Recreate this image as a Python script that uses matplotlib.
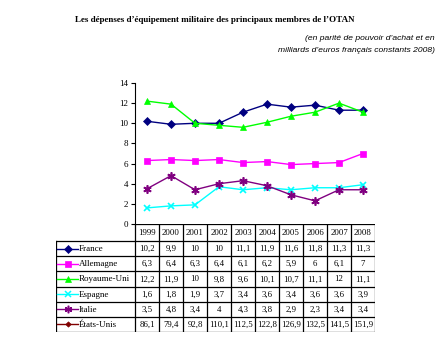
import matplotlib.pyplot as plt
from matplotlib.lines import Line2D

years = ['1999', '2000', '2001', '2002', '2003', '2004', '2005', '2006', '2007', '2008']
france = [10.2, 9.9, 10, 10, 11.1, 11.9, 11.6, 11.8, 11.3, 11.3]
allemagne = [6.3, 6.4, 6.3, 6.4, 6.1, 6.2, 5.9, 6, 6.1, 7]
royaume_uni = [12.2, 11.9, 10, 9.8, 9.6, 10.1, 10.7, 11.1, 12, 11.1]
espagne = [1.6, 1.8, 1.9, 3.7, 3.4, 3.6, 3.4, 3.6, 3.6, 3.9]
italie = [3.5, 4.8, 3.4, 4, 4.3, 3.8, 2.9, 2.3, 3.4, 3.4]
etats_unis = [86.1, 79.4, 92.8, 110.1, 112.5, 122.8, 126.9, 132.5, 141.5, 151.9]

series = [
    ('France', france, '#000080', 'D', 4, True),
    ('Allemagne', allemagne, '#FF00FF', 's', 4.5, True),
    ('Royaume-Uni', royaume_uni, '#00FF00', '^', 5, True),
    ('Espagne', espagne, '#00FFFF', 'x', 5, True),
    ('Italie', italie, '#800080', (6, 2, 0), 6, True),
    ('États-Unis', etats_unis, '#800000', 'D', 3, False),  # hors échelle
]

plt.rcParams['font.family'] = ['Liberation Serif', 'DejaVu Serif']

W, H = 437, 344
fig = plt.figure(figsize=(W / 100, H / 100), dpi=100)

def box(x0, y0, x1, y1):
    # pixel box (from top-left) -> figure fraction
    return [x0 / W, 1 - y1 / H, (x1 - x0) / W, (y1 - y0) / H]

fig.text(215 / W, 1 - 20 / H, "Les dépenses d\u2019équipement militaire des principaux membres de l\u2019OTAN",
         ha='center', va='center', fontsize=6.5, fontweight='bold')
fig.text(435 / W, 1 - 38 / H, "(en parité de pouvoir d\u2019achat et en",
         ha='right', va='center', fontsize=6.1, style='italic', family=['Liberation Sans'])
fig.text(435 / W, 1 - 51 / H, "milliards d\u2019euros français constants 2008)",
         ha='right', va='center', fontsize=6.1, style='italic', family=['Liberation Sans'])

x0, x1 = 135, 375
ytop, ybot = 83, 224
ax = fig.add_axes(box(x0, ytop, x1, ybot))
xs = range(len(years))
for name, vals, col, mk, ms, shown in series:
    if shown:
        ax.plot(xs, vals, color=col, marker=mk, markersize=ms, lw=1.0,
                markeredgewidth=1.2 if mk in ('x',) or isinstance(mk, tuple) else 0.5)
ax.set_xlim(-0.5, len(years) - 0.5)
ax.set_ylim(0, 14)
ax.set_yticks(range(0, 15, 2))
ax.set_xticks([])
for s in ['top', 'right', 'bottom']:
    ax.spines[s].set_visible(False)
ax.spines['left'].set_linewidth(0.8)
ax.tick_params(axis='y', length=3, width=0.8, labelsize=6.5, pad=2)
ax.patch.set_alpha(0)

# tableau de données
tx0, ty0, ty1 = 56, 224, 332
hdr = 241
tb = fig.add_axes(box(tx0, ty0, x1, ty1))
tb.set_xlim(tx0, x1)
tb.set_ylim(ty1, ty0)
tb.axis('off')
cw = (x1 - x0) / len(years)
rh = (ty1 - hdr) / len(series)
lw = 0.9
tb.plot([x0, x1], [ty0, ty0], color='k', lw=lw)
tb.plot([tx0, x1], [hdr, hdr], color='k', lw=lw)
for i in range(len(series)):
    y = hdr + (i + 1) * rh
    tb.plot([tx0, x1], [y, y], color='k', lw=lw)
tb.plot([tx0, tx0], [hdr, ty1], color='k', lw=lw)
for j in range(len(years) + 1):
    tb.plot([x0 + j * cw] * 2, [ty0, ty1], color='k', lw=lw)
for j, yr in enumerate(years):
    tb.text(x0 + (j + 0.5) * cw, (ty0 + hdr) / 2 + 0.5, yr, ha='center', va='center', fontsize=6.3)
for i, (name, vals, col, mk, ms, shown) in enumerate(series):
    yc = hdr + (i + 0.5) * rh
    tb.add_line(Line2D([57, 78], [yc, yc], color=col, lw=1.0))
    tb.add_line(Line2D([67.5], [yc], color=col, marker=mk, markersize=ms * 0.9,
                       markeredgewidth=1.1 if mk == 'x' or isinstance(mk, tuple) else 0.5))
    tb.text(79, yc + 0.5, name, ha='left', va='center', fontsize=6.5)
    for j, v in enumerate(vals):
        tb.text(x0 + (j + 0.5) * cw, yc + 0.5, ('%g' % v).replace('.', ','),
                ha='center', va='center', fontsize=6.3)

fig.savefig('out.png', dpi=100)
